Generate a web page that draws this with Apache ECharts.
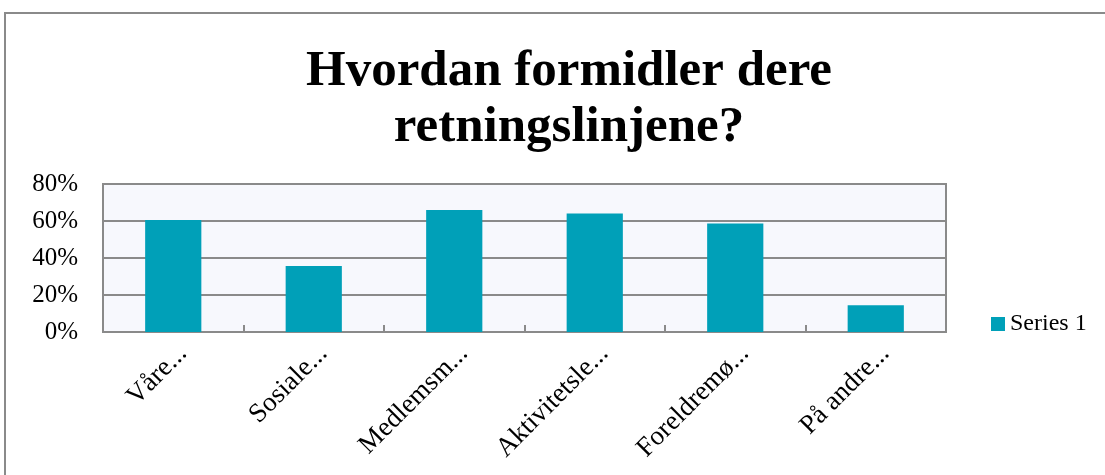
<!DOCTYPE html>
<html>
<head>
<meta charset="utf-8">
<script src="https://cdn.jsdelivr.net/npm/echarts@6/dist/echarts.min.js"></script>
<style>html,body{margin:0;padding:0;background:#fff;}#c{width:1105px;height:475px;}</style>
</head>
<body>
<div id="c"></div>
<script>
const categories = ['Våre...', 'Sosiale...', 'Medlemsm...', 'Aktivitetsle...', 'Foreldremø...', 'På andre...'];
const seriesName = 'Series 1';
const values = [60.5, 35.7, 66, 64, 58.7, 14.4];
const yTicks = { min: 0, max: 80, interval: 20 };
const titleText = 'Hvordan formidler dere\nretningslinjene?';

const serif = '"Liberation Serif", "DejaVu Serif", serif';
const chart = echarts.init(document.getElementById('c'));
chart.setOption({
  animation: false,
  backgroundColor: '#fff',
  graphic: [{
    type: 'rect', shape: { x: 5, y: 13, width: 1300, height: 700 },
    style: { fill: 'none', stroke: '#8a8a8a', lineWidth: 2 }, z: -1
  }],
  title: {
    text: titleText,
    left: 564, top: 39, textAlign: 'center',
    textStyle: { fontFamily: serif, fontWeight: 'bold', fontSize: 51, lineHeight: 56, color: '#000' }
  },
  legend: {
    data: [seriesName],
    left: 986, top: 307, icon: 'rect', itemWidth: 14, itemHeight: 14, itemGap: 8,
    textStyle: { fontFamily: serif, fontSize: 24, color: '#000' }
  },
  grid: {
    left: 103, right: 159, top: 184, bottom: 143,
    show: true, backgroundColor: '#f7f8fd', borderColor: '#8a8a8a', borderWidth: 2
  },
  xAxis: {
    type: 'category', data: categories,
    axisLine: { lineStyle: { color: '#8a8a8a', width: 2 } },
    axisTick: { show: true, inside: true, length: 7, lineStyle: { color: '#8a8a8a', width: 2 } },
    axisLabel: { rotate: 45, margin: 8, verticalAlign: 'top', fontFamily: serif, fontSize: 27, color: '#000', interval: 0 }
  },
  yAxis: {
    type: 'value', min: yTicks.min, max: yTicks.max, interval: yTicks.interval,
    axisLine: { show: false }, axisTick: { show: false },
    splitLine: { lineStyle: { color: '#8a8a8a', width: 2 } },
    axisLabel: { formatter: '{value}%', fontFamily: serif, fontSize: 25, color: '#000', margin: 25 }
  },
  series: [{
    name: seriesName, type: 'bar', data: values,
    barCategoryGap: '60%',
    itemStyle: { color: '#00a0b8' }
  }]
});
</script>
</body>
</html>
